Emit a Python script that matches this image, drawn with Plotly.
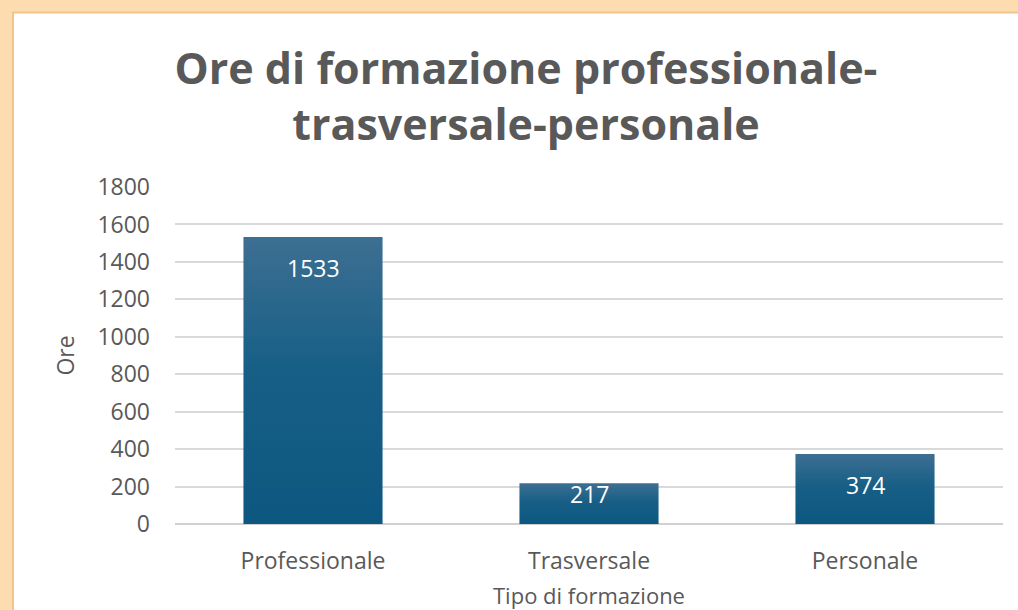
import plotly.graph_objects as go

# Training hours by type
categories = ["Professionale", "Trasversale", "Personale"]
ore = [1533, 217, 374]
y_ticks = [0, 200, 400, 600, 800, 1000, 1200, 1400, 1600, 1800]

W, H = 1018, 610
M_L, M_R, M_T, M_B = 175, 15, 187, 86
plot_h = H - M_T - M_B
y_max = 1800
px_per_unit = plot_h / y_max

half_w = 0.252
bar_scale = [[0.0, "#0c5780"], [0.55, "#185f86"], [1.0, "#3d6f92"]]
text_col = "#595959"
font_fam = "'Open Sans', Roboto, sans-serif"
lab_size = 23

fig = go.Figure()

# Bars drawn as filled polygons so each can carry a vertical gradient
for i, (cat, v) in enumerate(zip(categories, ore)):
    fig.add_trace(go.Scatter(
        x=[i - half_w, i + half_w, i + half_w, i - half_w, i - half_w],
        y=[0, 0, v, v, 0],
        mode="lines",
        line=dict(width=0, color="rgba(0,0,0,0)"),
        fill="toself",
        fillgradient=dict(type="vertical", colorscale=bar_scale, start=0, stop=v),
        hoverinfo="text",
        hovertext=f"{cat}: {v}",
        showlegend=False,
    ))

# Value labels just inside the top of each bar
for i, v in enumerate(ore):
    h_px = v * px_per_unit
    shift = -31 if h_px > 62 else -h_px * 0.27
    fig.add_annotation(
        x=i, y=v, xref="x", yref="y",
        text=str(v), showarrow=False, yshift=shift,
        font=dict(family=font_fam, size=lab_size, color="white"),
    )

# x-axis title, placed below the category labels
fig.add_annotation(
    x=0.5, y=0, xref="paper", yref="paper",
    xanchor="center", yanchor="middle", yshift=-71,
    text="Tipo di formazione", showarrow=False,
    font=dict(family=font_fam, size=22, color=text_col),
)

# White card on the peach background
fx = lambda px: (px - M_L) / (W - M_L - M_R)
fy = lambda py: (H - M_B - py) / plot_h
fig.add_shape(type="rect", xref="paper", yref="paper",
              x0=fx(13), x1=fx(W + 5), y0=fy(H + 5), y1=fy(12.5),
              fillcolor="white", line=dict(color="#f0c68f", width=2),
              layer="below")

fig.update_layout(
    width=W, height=H,
    margin=dict(l=M_L, r=M_R, t=M_T, b=M_B),
    paper_bgcolor="#fddcb0",
    plot_bgcolor="rgba(0,0,0,0)",
    title=dict(
        text="<b>Ore di formazione professionale-<br>trasversale-personale</b>",
        x=526 / W, xanchor="center", xref="container",
        y=1 - 84 / H, yanchor="top", yref="container",
        font=dict(family=font_fam, size=43, color=text_col),
    ),
    font=dict(family=font_fam, size=lab_size, color=text_col),
    xaxis=dict(
        range=[-0.5, 2.5], automargin=False,
        tickmode="array", tickvals=list(range(len(categories))), ticktext=categories,
        showgrid=False, zeroline=False, showline=False,
        ticks="", ticklabelstandoff=21,
        tickfont=dict(size=lab_size, color=text_col),
        fixedrange=True,
    ),
    yaxis=dict(
        range=[0, y_max], automargin=False,
        tickmode="array", tickvals=y_ticks,
        showgrid=True, gridcolor="#d9d9d9", gridwidth=1.5,
        zeroline=True, zerolinecolor="#d0d0d0", zerolinewidth=1.5,
        showline=False, ticks="", ticklabelstandoff=24,
        tickfont=dict(size=lab_size, color=text_col),
        title=dict(text="Ore", standoff=16, font=dict(size=lab_size, color=text_col)),
        fixedrange=True,
    ),
)

fig.write_html("out.html")
